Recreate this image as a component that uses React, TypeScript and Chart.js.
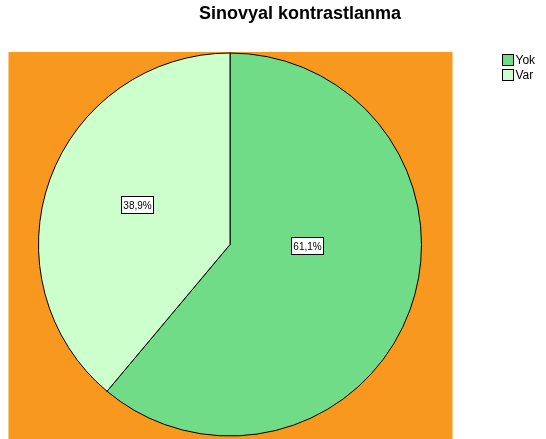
import React, { useEffect, useRef } from "react";
import { Chart, registerables } from "chart.js";

Chart.register(...registerables);

const title = "Sinovyal kontrastlanma";
const categories = ["Yok", "Var"];
const percents = [61.1, 38.9];
const labelTexts = ["61,1%", "38,9%"];
const colors = ["#70DC87", "#CCFFCC"];
const plotBg = "#F8981F";

const decor = {
  id: "decor",
  beforeDraw(chart: any) {
    const ctx = chart.ctx;
    const meta = chart.getDatasetMeta(0);
    const arc = meta.data[0];
    if (!arc) return;
    const r = arc.outerRadius;
    ctx.save();
    ctx.fillStyle = plotBg;
    ctx.fillRect(arc.x - r - 30, arc.y - r - 1, r * 2 + 30 + 31, chart.height - (arc.y - r - 1));
    ctx.restore();
  },
  afterDraw(chart: any) {
    const ctx = chart.ctx;
    const meta = chart.getDatasetMeta(0);
    ctx.save();
    // title
    ctx.fillStyle = "#000";
    ctx.font = "bold 18px 'Liberation Sans', Arial, sans-serif";
    ctx.textAlign = "center";
    ctx.textBaseline = "alphabetic";
    ctx.fillText(title, 300, 19);
    // labels
    const frac = [0.404, 0.526];
    const angOff = [-0.33, 0.058];
    meta.data.forEach((a: any, i: number) => {
      const mid = (a.startAngle + a.endAngle) / 2 + angOff[i];
      const rr = a.outerRadius * frac[i];
      const x = a.x + Math.cos(mid) * rr;
      const y = a.y + Math.sin(mid) * rr;
      ctx.font = "10px 'Liberation Sans', Arial, sans-serif";
      const t = labelTexts[i];
      const w = Math.round(ctx.measureText(t).width + 4);
      const h = 17;
      const lx = Math.round(x - w / 2) + 0.5;
      const ly = Math.round(y - h / 2) + 0.5;
      ctx.fillStyle = "#fff";
      ctx.fillRect(lx, ly, w, h);
      ctx.strokeStyle = "#000";
      ctx.lineWidth = 1;
      ctx.strokeRect(lx, ly, w, h);
      ctx.fillStyle = "#000";
      ctx.textAlign = "center";
      ctx.textBaseline = "middle";
      ctx.fillText(t, lx + w / 2, ly + h / 2 + 1);
    });
    // legend
    categories.forEach((c, i) => {
      const bx = 502.5;
      const by = 54.5 + i * 15;
      ctx.fillStyle = colors[i];
      ctx.fillRect(bx, by, 11, 11);
      ctx.strokeStyle = "#000";
      ctx.lineWidth = 1;
      ctx.strokeRect(bx, by, 11, 11);
      ctx.fillStyle = "#000";
      ctx.font = "12px 'Liberation Sans', Arial, sans-serif";
      ctx.textAlign = "left";
      ctx.textBaseline = "middle";
      ctx.fillText(c, bx + 13, by + 6.5);
    });
    ctx.restore();
  },
};

export default function App() {
  const ref = useRef<HTMLCanvasElement>(null);
  useEffect(() => {
    if (!ref.current) return;
    const chart = new Chart(ref.current, {
      type: "pie",
      data: {
        labels: categories,
        datasets: [
          {
            data: percents,
            backgroundColor: colors,
            borderColor: "#000",
            borderWidth: 1,
          },
        ],
      },
      options: {
        animation: false,
        responsive: false,
        maintainAspectRatio: false,
        layout: { padding: { left: 38, right: 124, top: 52, bottom: 2 } },
        plugins: {
          legend: { display: false },
          title: { display: false },
          tooltip: { enabled: false },
        },
      },
      plugins: [decor],
    });
    return () => chart.destroy();
  }, []);
  return (
    <div style={{ position: "absolute", left: 0, top: 0, width: 546, height: 439 }}>
      <canvas ref={ref} width={546} height={439} style={{ display: "block" }} />
    </div>
  );
}
